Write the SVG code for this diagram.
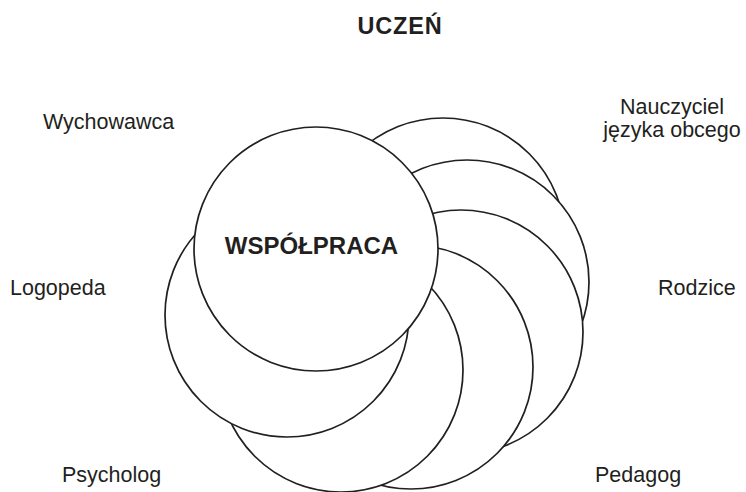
<svg xmlns="http://www.w3.org/2000/svg" width="746" height="492" viewBox="0 0 746 492">
<style>
.c{fill:#fff;stroke:#231f20;stroke-width:1.7}
.t{font-family:"Liberation Sans",Arial,sans-serif;font-size:21.5px;fill:#231f20}
.b{font-family:"Liberation Sans",Arial,sans-serif;font-weight:bold;fill:#231f20}
</style>
<rect width="746" height="492" fill="#fff"/>
<g id="circles">
<circle id="c7" class="c" cx="443" cy="240" r="122"/>
<circle id="c6" class="c" cx="467" cy="282" r="122"/>
<circle id="c5" class="c" cx="461" cy="332" r="122"/>
<circle id="c4" class="c" cx="411" cy="367" r="122"/>
<circle id="c3" class="c" cx="341" cy="370" r="122"/>
<circle id="c2" class="c" cx="287" cy="315" r="122"/>
<g id="wspolpraca">
<circle class="c" cx="316" cy="249" r="122"/>
<text class="b" x="311.5" y="254" font-size="24" text-anchor="middle">WSPÓŁPRACA</text>
</g>
</g>
<g id="uczen"><text class="b" x="400" y="34" font-size="23.5" letter-spacing="0.8" text-anchor="middle">UCZEŃ</text></g>
<g id="wychowawca"><text class="t" x="43" y="129">Wychowawca</text></g>
<g id="nauczyciel"><text class="t" x="672" y="114" text-anchor="middle">Nauczyciel</text><text class="t" x="672" y="137" text-anchor="middle">języka obcego</text></g>
<g id="logopeda"><text class="t" x="10" y="295">Logopeda</text></g>
<g id="rodzice"><text class="t" x="658" y="295">Rodzice</text></g>
<g id="psycholog"><text class="t" x="62" y="482">Psycholog</text></g>
<g id="pedagog"><text class="t" x="595" y="482">Pedagog</text></g>
</svg>
